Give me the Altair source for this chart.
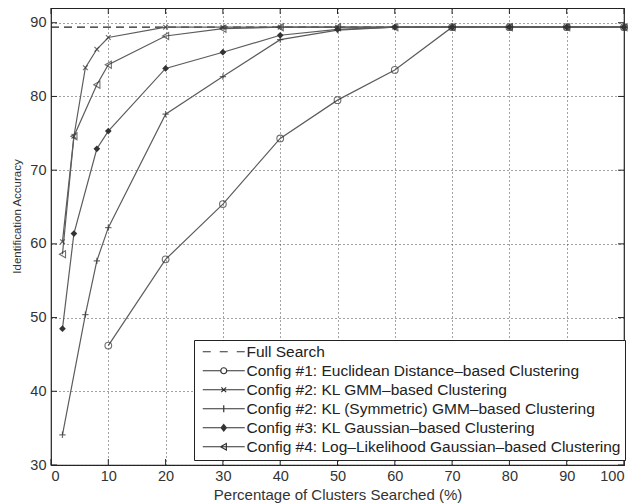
import altair as alt
import pandas as pd

# ---- data ----
series_names = [
    "Full Search",
    "Config #1: Euclidean Distance–based Clustering",
    "Config #2: KL GMM–based Clustering",
    "Config #2: KL (Symmetric) GMM–based Clustering",
    "Config #3: KL Gaussian–based Clustering",
    "Config #4: Log–Likelihood Gaussian–based Clustering",
]

x_full = [0, 100]
y_full = [89.4, 89.4]

x_c1 = [10, 20, 30, 40, 50, 60, 70, 80, 90, 100]
y_c1 = [46.2, 57.9, 65.4, 74.3, 79.5, 83.6, 89.4, 89.4, 89.4, 89.4]

x_c2 = [2, 4, 6, 8, 10, 20, 30, 40, 50, 60, 70, 80, 90, 100]
y_c2 = [60.3, 74.6, 83.9, 86.4, 88.0, 89.4, 89.4, 89.4, 89.4, 89.4, 89.4, 89.4, 89.4, 89.4]

x_c2s = [2, 6, 8, 10, 20, 30, 40, 50, 60, 70, 80, 90, 100]
y_c2s = [34.1, 50.4, 57.7, 62.2, 77.6, 82.7, 87.7, 89.0, 89.4, 89.4, 89.4, 89.4, 89.4]

x_c3 = [2, 4, 8, 10, 20, 30, 40, 50, 60, 70, 80, 90, 100]
y_c3 = [48.5, 61.4, 72.9, 75.3, 83.8, 86.0, 88.3, 89.1, 89.4, 89.4, 89.4, 89.4, 89.4]

x_c4 = [2, 4, 8, 10, 20, 30, 40, 50, 60, 70, 80, 90, 100]
y_c4 = [58.6, 74.6, 81.6, 84.3, 88.2, 89.2, 89.4, 89.4, 89.4, 89.4, 89.4, 89.4, 89.4]

x_ticks = [0, 10, 20, 30, 40, 50, 60, 70, 80, 90, 100]
y_ticks = [30, 40, 50, 60, 70, 80, 90]

# ---- tables ----
def frame(xs, ys, name):
    return pd.DataFrame({"x": xs, "y": ys, "series": name})

d_full = frame(x_full, y_full, series_names[0])
d1 = frame(x_c1, y_c1, series_names[1])
d2 = frame(x_c2, y_c2, series_names[2])
d2s = frame(x_c2s, y_c2s, series_names[3])
d3 = frame(x_c3, y_c3, series_names[4])
d4 = frame(x_c4, y_c4, series_names[5])
d_cfg = pd.concat([d1, d2, d2s, d3, d4], ignore_index=True)
d_all = pd.concat([d_full, d_cfg], ignore_index=True)

W, H = 573, 457
LINE = "#5c5c5c"
MARK = "#333333"
FONT = "Liberation Sans"

xenc = alt.X("x:Q", scale=alt.Scale(domain=[0, 100], nice=False),
             axis=alt.Axis(values=x_ticks, title="Percentage of Clusters Searched (%)",
                           labelPadding=4, titlePadding=5, titleFontSize=15))
yenc = alt.Y("y:Q", scale=alt.Scale(domain=[30, 92], nice=False, zero=False),
             axis=alt.Axis(values=y_ticks, title="Identification Accuracy",
                           labelPadding=5, titlePadding=7, titleFontSize=11.5,
                           titleY=208))

# legend symbols (unit = 4 px): line segment with the marker on it
legend_paths = [
    "M-5.25,0L-3.25,0M-1,0L1,0M3.25,0L5.25,0",
    "M-5.25,0L-0.75,0M0.75,0L5.25,0M-0.75,0A0.75,0.75 0 1,0 0.75,0A0.75,0.75 0 1,0 -0.75,0",
    "M-5.25,0L5.25,0M-0.6,-0.6L0.6,0.6M-0.6,0.6L0.6,-0.6",
    "M-5.25,0L5.25,0M0,-0.9L0,0.9",
    "M-5.25,0L5.25,0M0,-0.8L0.65,0L0,0.8L-0.65,0ZM0,-0.4L0.33,0L0,0.4L-0.33,0Z",
    "M-5.25,0L5.25,0M-0.8,0L0.65,-0.8L0.65,0.8Z",
]

legend_layer = alt.Chart(d_all).mark_point(filled=False, opacity=0, color=MARK).encode(
    x=xenc, y=yenc,
    shape=alt.Shape("series:N",
                    scale=alt.Scale(domain=series_names, range=legend_paths),
                    sort=series_names,
                    legend=alt.Legend(title=None, orient="none", legendX=143, legendY=332)),
)

full_line = alt.Chart(d_full).mark_line(color="#222222", strokeWidth=1.3,
                                         strokeDash=[8, 5]).encode(x="x:Q", y="y:Q")

cfg_lines = alt.Chart(d_cfg).mark_line(color=LINE, strokeWidth=1.2).encode(
    x="x:Q", y="y:Q", detail="series:N", order="x:Q")

p1 = alt.Chart(d1).mark_point(shape="circle", filled=False, color=MARK, size=45,
                              strokeWidth=1.1).encode(x="x:Q", y="y:Q")
p2 = alt.Chart(d2).mark_point(shape="M-1,-1L1,1M-1,1L1,-1", filled=False, color=MARK,
                              size=22, strokeWidth=1.2).encode(x="x:Q", y="y:Q")
p2s = alt.Chart(d2s).mark_point(shape="M-1,0L1,0M0,-1L0,1", filled=False, color=MARK,
                                size=40, strokeWidth=1.2).encode(x="x:Q", y="y:Q")
p3 = alt.Chart(d3).mark_point(shape="diamond", filled=True, color=MARK, size=45,
                              opacity=1).encode(x="x:Q", y="y:Q")
p4 = alt.Chart(d4).mark_point(shape="triangle-left", filled=False, color=MARK, size=50,
                              strokeWidth=1.1).encode(x="x:Q", y="y:Q")

# inner tick marks (MATLAB style) on all four sides
d_xt = pd.DataFrame({"x": x_ticks})
d_yt = pd.DataFrame({"y": y_ticks})
tick_b = alt.Chart(d_xt).mark_rule(color="#222", strokeWidth=1).encode(
    x="x:Q", y=alt.value(H), y2=alt.value(H - 6))
tick_t = alt.Chart(d_xt).mark_rule(color="#222", strokeWidth=1).encode(
    x="x:Q", y=alt.value(0), y2=alt.value(6))
tick_l = alt.Chart(d_yt).mark_rule(color="#222", strokeWidth=1).encode(
    y="y:Q", x=alt.value(0), x2=alt.value(6))
tick_r = alt.Chart(d_yt).mark_rule(color="#222", strokeWidth=1).encode(
    y="y:Q", x=alt.value(W), x2=alt.value(W - 6))

chart = alt.layer(
    legend_layer, full_line, cfg_lines, p1, p2, p2s, p3, p4,
    tick_b, tick_t, tick_l, tick_r,
).properties(
    width=W, height=H,
    autosize=alt.AutoSizeParams(type="none"),
    padding={"left": 43, "top": 0, "right": 12, "bottom": 38},
).configure_view(
    stroke="#222222", strokeWidth=1.2
).configure_axis(
    labelFont=FONT, labelFontSize=14.5, labelColor="#333333",
    titleFont=FONT, titleFontWeight="normal",
    titleColor="#333333", domain=False, ticks=False, grid=True,
    gridDash=[1, 3], gridColor="#333333", gridWidth=1, gridOpacity=0.9,
).configure_legend(
    labelFont=FONT, labelFontSize=15.5, labelColor="#222222",
    labelLimit=600, fillColor="white", strokeColor="#222222", padding=4,
    rowPadding=2, labelOffset=15, symbolOffset=18, symbolSize=64,
    symbolStrokeWidth=1.2, symbolStrokeColor=MARK, symbolFillColor="transparent",
    symbolOpacity=1,
)

chart.save("out.html", embed_options={"renderer": "svg", "actions": False})
